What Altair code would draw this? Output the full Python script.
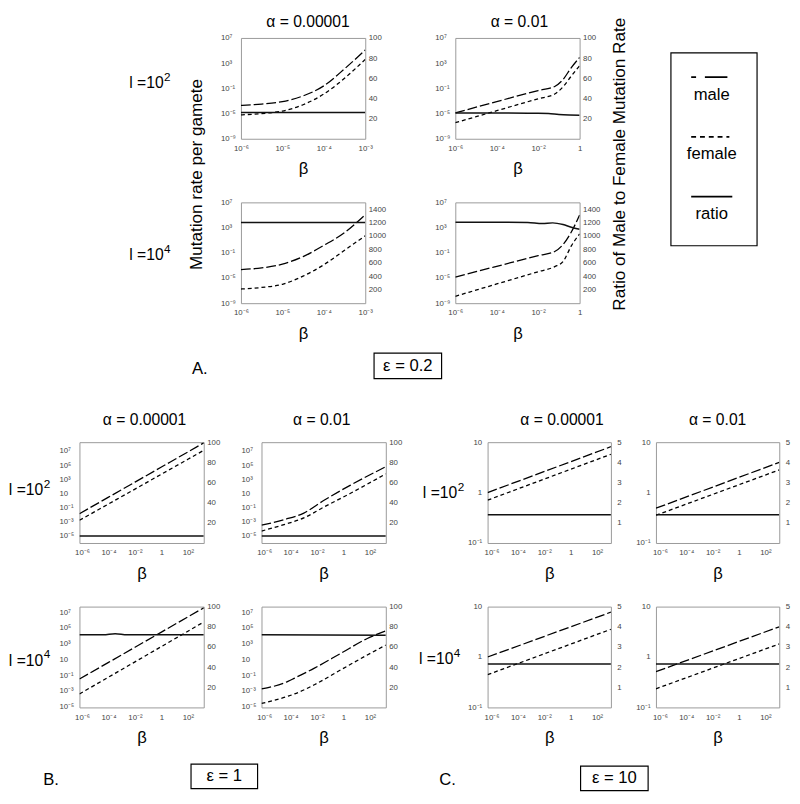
import altair as alt
import pandas as pd

FONT = "Liberation Sans"

# ---------------- data: x = log10(beta), male/female = log10(mutation rate), ratio = male/female ----------
# Panel A (epsilon = 0.2)
a11_x = [-6, -5.5, -5, -4.5, -4, -3.5, -3]
a11_male = [-3.7, -3.5, -3.1, -2.2, -0.6, 2.1, 5.1]
a11_female = [-5.2, -5.0, -4.6, -3.6, -1.9, 0.6, 3.6]
a11_rx = [-6, -3]
a11_ratio = [26, 26]

a12_x = [-6, -4, -2, -1.2, -0.8, -0.4, 0]
a12_male = [-4.9, -3.1, -1.35, -0.7, 0.4, 2.3, 3.9]
a12_female = [-6.45, -4.55, -2.65, -1.9, -0.75, 0.95, 2.6]
a12_rx = [-6, -4, -2, -1.5, -1, -0.5, 0]
a12_ratio = [25.5, 25.5, 25.3, 25, 24, 23.5, 23.3]

a21_x = [-6, -5.5, -5, -4.5, -4, -3.5, -3]
a21_male = [-3.66, -3.4, -2.8, -1.6, 0.18, 2.2, 5.05]
a21_female = [-6.75, -6.5, -6.0, -4.7, -2.9, -0.6, 1.7]
a21_rx = [-6, -3]
a21_ratio = [1200, 1200]

a22_x = [-6, -4, -2, -1.2, -0.8, -0.4, 0]
a22_male = [-4.85, -3.15, -1.45, -0.8, 0.3, 2.3, 5.0]
a22_female = [-7.9, -5.95, -4.0, -3.2, -2.4, 0.1, 2.0]
a22_rx = [-6, -4, -2.5, -1.8, -1.3, -0.8, -0.4, 0]
a22_ratio = [1205, 1205, 1200, 1185, 1195, 1170, 1130, 1100]

# Panel B (epsilon = 1)
b11_x = [-6.2, -4, -2, 0, 2, 3.2]
b11_male = [-1.86, 0.48, 2.61, 4.74, 6.87, 8.15]
b11_female = [-2.79, -0.48, 1.62, 3.73, 5.83, 7.1]
b11_rx = [-6.2, 3.2]
b11_ratio = [7, 7]

b12_x = [-6.2, -4.5, -3.0, -1.5, 0.5, 3.2]
b12_male = [-3.48, -2.7, -1.77, 0.0, 2.15, 4.78]
b12_female = [-4.31, -3.4, -2.46, -0.94, 1.0, 3.77]
b12_rx = [-6.2, 3.2]
b12_ratio = [7, 7]

b21_x = [-6.2, -4, -2, 0, 2, 3.2]
b21_male = [-1.48, 0.63, 2.55, 4.47, 6.4, 7.55]
b21_female = [-3.37, -1.24, 0.7, 2.64, 4.58, 5.75]
b21_rx = [-6.2, -4.4, -3.5, -2.6, 3.2]
b21_ratio = [72, 72, 73, 72, 72]

b22_x = [-6.2, -4.2, -3.7, -2.2, -0.2, 1.8, 3.2]
b22_male = [-2.74, -1.78, -1.36, -0.1, 1.78, 3.66, 4.62]
b22_female = [-4.58, -3.66, -3.37, -2.2, -0.31, 1.57, 2.82]
b22_rx = [-6.2, 3.2]
b22_ratio = [72, 71.5]

# Panel C (epsilon = 10)
c_x = [-6.3, 3.05]
c11_male = [0.0, 0.91]
c11_female = [-0.15, 0.76]
c11_ratio = [1.4, 1.4]
c12_male = [-0.31, 0.6]
c12_female = [-0.45, 0.45]
c12_ratio = [1.4, 1.4]
c21_male = [0.0, 0.89]
c21_female = [-0.35, 0.55]
c21_ratio = [2.15, 2.15]
c22_male = [-0.29, 0.6]
c22_female = [-0.63, 0.26]
c22_ratio = [2.15, 2.15]

legend_names = ["male", "female", "ratio"]

# ---------------- helpers ----------------
SUP = str.maketrans("-0123456789", "⁻⁰¹²³⁴⁵⁶⁷⁸⁹")


def pow_label(e):
    if e == 0:
        return "1"
    if e == 1:
        return "10"
    return "10" + str(e).translate(SUP)


def label_expr(exps):
    ex = "round(log(datum.value) / LN10)"
    s = "''"
    for e in reversed(exps):
        s = f"{ex} == {e} ? '{pow_label(e)}' : ({s})"
    return s


ONE = pd.DataFrame({"k": [0]})


def txt(t, x, y, size=16, align="center", angle=0, baseline="middle"):
    m = alt.Chart(ONE).mark_text(text=t, fontSize=size, font=FONT, align=align,
                                 baseline=baseline, angle=angle, color="black")
    return m.encode(x=alt.value(x), y=alt.value(y))


def panel(xe, male, female, rxe, ratio, xdom, ydom, rdom, xt, yt, rt,
          title=None, tdx=0, ty=-20, W=127, H=103, L=24, R=24,
          ylab_align="left", ylab_pad=21, rlab_pad=3):
    ld = pd.DataFrame({"x": [10 ** v for v in xe] * 2,
                       "v": [10 ** v for v in male] + [10 ** v for v in female],
                       "s": ["male"] * len(xe) + ["female"] * len(xe)})
    rd = pd.DataFrame({"x": [10 ** v for v in rxe], "r": ratio})
    xs = alt.Scale(type="log", domain=[10 ** xdom[0], 10 ** xdom[1]], nice=False)
    xa = alt.Axis(values=[10 ** e for e in xt], labelExpr=label_expr(xt), title="β",
                  labelFlush=False, labelOverlap=False, labelPadding=6,
                  minExtent=14, maxExtent=14, titlePadding=9)
    lines = alt.Chart(ld).mark_line(color="black", strokeWidth=1.3, clip=True,
                                    interpolate="monotone").encode(
        x=alt.X("x:Q", scale=xs, axis=xa),
        y=alt.Y("v:Q",
                scale=alt.Scale(type="log", domain=[10 ** ydom[0], 10 ** ydom[1]], nice=False),
                axis=alt.Axis(orient="left", values=[10 ** e for e in yt], labelExpr=label_expr(yt),
                              title=None, labelAlign=ylab_align, labelPadding=ylab_pad,
                              minExtent=L, maxExtent=L, labelFlush=False, labelOverlap=False)),
        strokeDash=alt.StrokeDash("s:N", scale=alt.Scale(domain=["male", "female"],
                                                          range=[[10, 3], [4, 3]]), legend=None),
    )
    rline = alt.Chart(rd).mark_line(color="#111", strokeWidth=1.5, clip=True,
                                    interpolate="monotone").encode(
        x=alt.X("x:Q", scale=xs, axis=xa),
        y=alt.Y("r:Q", scale=alt.Scale(domain=rdom, nice=False, zero=False),
                axis=alt.Axis(orient="right", values=rt, title=None, labelPadding=rlab_pad,
                              format="d", minExtent=R, maxExtent=R, labelFlush=False,
                              labelOverlap=False)),
    )
    layers = [lines, rline]
    if title:
        layers.append(txt(title, W / 2 + tdx, ty, 16))
    ch = alt.layer(*layers).resolve_scale(y="independent")
    return ch.properties(width=W, height=H, view=alt.ViewBackground(stroke="#999", strokeWidth=1))


def box(x1, x2, y1, y2):
    return alt.Chart(ONE).mark_rect(fill="white", stroke="black", strokeWidth=1.2).encode(
        x=alt.value(x1), x2=alt.value(x2), y=alt.value(y1), y2=alt.value(y2))


def canvas(layers, W, H):
    return alt.layer(*layers).properties(width=W, height=H,
                                         view=alt.ViewBackground(stroke="transparent"))


def row_label(x, y, exp_txt):
    return [txt("l =10", x, y, 16, align="right"),
            txt(exp_txt, x + 0.5, y - 6.5, 12, align="left")]


# ---------------- panel A ----------------
A_X1 = [-6, -5, -4, -3]
A_X2 = [-6, -4, -2, 0]
A_Y = [-9, -5, -1, 3, 7]
a11 = panel(a11_x, a11_male, a11_female, a11_rx, a11_ratio, (-6, -3), (-9, 7), [0, 100],
            A_X1, A_Y, [20, 40, 60, 80, 100], title="α = 0.00001", tdx=5, ty=-16)
a12 = panel(a12_x, a12_male, a12_female, a12_rx, a12_ratio, (-6, 0), (-9, 7), [0, 100],
            A_X2, A_Y, [20, 40, 60, 80, 100], title="α = 0.01", tdx=2, ty=-16)
a21 = panel(a21_x, a21_male, a21_female, a21_rx, a21_ratio, (-6, -3), (-9, 7), [0, 1500],
            A_X1, A_Y, [200, 400, 600, 800, 1000, 1200, 1400])
a22 = panel(a22_x, a22_male, a22_female, a22_rx, a22_ratio, (-6, 0), (-9, 7), [0, 1500],
            A_X2, A_Y, [200, 400, 600, 800, 1000, 1200, 1400])
gridA = alt.vconcat(alt.hconcat(a11, a12, spacing=42), alt.hconcat(a21, a22, spacing=42), spacing=20)

spacerAL = canvas(row_label(155, 46, "2") + row_label(155, 222, "4") +
                  [txt("Mutation rate per gamete", 189, 139.5, 17.5, angle=270)], 208, 290)
spacerAR = canvas([txt("Ratio of Male to Female Mutation Rate", 15, 129, 17.5, angle=270)], 65, 290)

ldf = pd.DataFrame({"s": legend_names})
ly = alt.Y("s:N", scale=alt.Scale(type="point", domain=legend_names, range=[25, 147], padding=0),
           axis=None)
legend_dashes = {"male": [5, 9, 23, 20], "female": [5, 4]}
legend_ends = {"male": 58, "female": 60, "ratio": 63}
leg_layers = []
for nm in legend_names:
    mk = dict(color="black", strokeWidth=1.8)
    if nm in legend_dashes:
        mk["strokeDash"] = legend_dashes[nm]
    leg_layers.append(alt.Chart(ldf).transform_filter(alt.datum.s == nm).mark_rule(**mk).encode(
        y=ly, x=alt.value(21), x2=alt.value(legend_ends[nm])))
leg_layers.append(alt.Chart(ldf).mark_text(fontSize=17, font=FONT, dy=18, color="black").encode(
    y=ly, x=alt.value(42), text="s:N"))
legend = alt.layer(*leg_layers).properties(
    width=88, height=197, view=alt.ViewBackground(stroke="black", strokeWidth=1.2))
legendCol = alt.vconcat(canvas([txt("", 2, 2, 1)], 88, 13), legend, spacing=0)

rowA = alt.hconcat(spacerAL, gridA, spacerAR, legendCol, spacing=0)
textA = canvas([txt("A.", 192, 26, 17), box(370, 439, 10, 36), txt("ε = 0.2", 404.5, 23, 17)],
               450, 68)

# ---------------- panels B and C ----------------
BC_X = [-6, -4, -2, 0, 2]
B_Y = [-5, -3, -1, 1, 3, 5, 7]
b11 = panel(b11_x, b11_male, b11_female, b11_rx, b11_ratio, (-6.2, 3.2), (-6, 8.25), [0, 100],
            BC_X, B_Y, [20, 40, 60, 80, 100], title="α = 0.00001", tdx=3, ty=-23)
b12 = panel(b12_x, b12_male, b12_female, b12_rx, b12_ratio, (-6.2, 3.2), (-6, 8.25), [0, 100],
            BC_X, B_Y, [20, 40, 60, 80, 100], title="α = 0.01", tdx=-2, ty=-23)
b21 = panel(b21_x, b21_male, b21_female, b21_rx, b21_ratio, (-6.2, 3.2), (-5.08, 7.7), [0, 100],
            BC_X, B_Y, [20, 40, 60, 80, 100])
b22 = panel(b22_x, b22_male, b22_female, b22_rx, b22_ratio, (-6.2, 3.2), (-5.08, 7.7), [0, 100],
            BC_X, B_Y, [20, 40, 60, 80, 100])
gridB = alt.vconcat(alt.hconcat(b11, b12, spacing=9), alt.hconcat(b21, b22, spacing=9), spacing=20)

C_Y = [-1, 0, 1]
C_R = [1, 2, 3, 4, 5]
cargs = dict(W=126, L=22, R=12, ylab_align="right", ylab_pad=6, rlab_pad=6)
c11 = panel(c_x, c11_male, c11_female, c_x, c11_ratio, (-6.3, 3.05), (-1, 1), [0, 5],
            BC_X, C_Y, C_R, title="α = 0.00001", tdx=13, ty=-23, **cargs)
c12 = panel(c_x, c12_male, c12_female, c_x, c12_ratio, (-6.3, 3.05), (-1, 1), [0, 5],
            BC_X, C_Y, C_R, title="α = 0.01", tdx=0, ty=-23, **cargs)
c21 = panel(c_x, c21_male, c21_female, c_x, c21_ratio, (-6.3, 3.05), (-1, 1), [0, 5],
            BC_X, C_Y, C_R, **cargs)
c22 = panel(c_x, c22_male, c22_female, c_x, c22_ratio, (-6.3, 3.05), (-1, 1), [0, 5],
            BC_X, C_Y, C_R, **cargs)
gridC = alt.vconcat(alt.hconcat(c11, c12, spacing=10), alt.hconcat(c21, c22, spacing=10), spacing=20)

spacerBL = canvas(row_label(32, 49, "2") + row_label(32, 223.5, "4"), 43, 280)
spacerBC = canvas(row_label(47, 52, "2") + row_label(43, 222, "4"), 54, 280)
rowBC = alt.hconcat(spacerBL, gridB, spacerBC, gridC, spacing=0)

textBC = canvas([txt("B.", 40, 33, 17), box(183, 251, 17, 42), txt("ε = 1", 217, 29.5, 17),
                 txt("C.", 445, 33, 17), box(581, 650, 19, 44), txt("ε = 10", 615.5, 31.5, 17)],
                660, 45)


def build(pad):
    return alt.vconcat(rowA, textA, rowBC, textBC, spacing=0).properties(padding=pad).configure(
        font=FONT
    ).configure_view(stroke="transparent").configure_axis(
        labelFont=FONT, labelFontSize=8, labelColor="#444", ticks=False, tickSize=0, domain=False,
        grid=False, titleFont=FONT, titleFontSize=17, titleFontWeight="normal", titleColor="black"
    )


try:
    chart = build({"left": 0, "top": -3, "right": 0, "bottom": 0})
    chart.to_dict()
except Exception:
    chart = build(0)

chart.save("out.html", embed_options={"renderer": "svg", "actions": False})
